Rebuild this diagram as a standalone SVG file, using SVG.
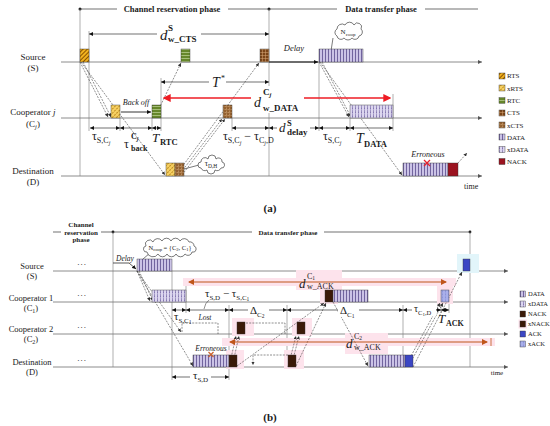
<svg xmlns="http://www.w3.org/2000/svg" width="550" height="426" viewBox="0 0 550 426">
<style>
.t{font-family:"Liberation Serif","Times New Roman",serif;fill:#1a1a1a}
.b{font-weight:bold}
.i{font-style:italic}
.m{text-anchor:middle}
.ln{stroke:#6e6e6e;stroke-width:0.8;fill:none;marker-end:url(#ax)}
.vl{stroke:#7a7a7a;stroke-width:0.6;fill:none}
.hd{stroke:#333;stroke-width:0.7;fill:none}
.dm{stroke:#111;stroke-width:0.6;fill:none;marker-start:url(#ah);marker-end:url(#ah)}
.ds{stroke:#333;stroke-width:0.55;stroke-dasharray:2 1.2;fill:none;marker-end:url(#dh)}
.dn{stroke:#333;stroke-width:0.55;stroke-dasharray:2 1.2;fill:none}
.bx{stroke:#333;stroke-width:0.4}
.pk{fill:#fde3ec}
</style>
<defs>
<marker id="ah" viewBox="0 0 6 6" refX="6" refY="3" markerWidth="4" markerHeight="4" markerUnits="userSpaceOnUse" orient="auto-start-reverse"><path d="M0,0 L6,3 L0,6 z" fill="#111"/></marker>
<marker id="ax" viewBox="0 0 6 6" refX="6" refY="3" markerWidth="4" markerHeight="4" markerUnits="userSpaceOnUse" orient="auto"><path d="M0,0 L6,3 L0,6 z" fill="#555"/></marker>
<marker id="dh" viewBox="0 0 6 6" refX="6" refY="3" markerWidth="3.5" markerHeight="3.5" markerUnits="userSpaceOnUse" orient="auto"><path d="M0,0 L6,3 L0,6 z" fill="#333"/></marker>
<marker id="rh" viewBox="0 0 6 6" refX="5" refY="3" markerWidth="8" markerHeight="8" markerUnits="userSpaceOnUse" orient="auto-start-reverse"><path d="M0,0 L6,3 L0,6 z" fill="#ee1c24"/></marker>
<marker id="oh" viewBox="0 0 6 6" refX="5" refY="3" markerWidth="6" markerHeight="6" markerUnits="userSpaceOnUse" orient="auto-start-reverse"><path d="M0,0 L6,3 L0,6 z" fill="#c0561a"/></marker>
<pattern id="pRTS" width="3" height="3" patternUnits="userSpaceOnUse" patternTransform="rotate(45)"><rect width="3" height="3" fill="#f2b21e"/><line x1="0.5" y1="0" x2="0.5" y2="3" stroke="#8a5300" stroke-width="1"/></pattern>
<pattern id="pxRTS" width="3" height="3" patternUnits="userSpaceOnUse" patternTransform="rotate(45)"><rect width="3" height="3" fill="#f6d062"/><line x1="0.5" y1="0" x2="0.5" y2="3" stroke="#b07a10" stroke-width="0.8" stroke-dasharray="1 1"/></pattern>
<pattern id="pRTC" width="4" height="3" patternUnits="userSpaceOnUse"><rect width="4" height="3" fill="#66872a"/><line x1="0" y1="1.5" x2="4" y2="1.5" stroke="#d2e2ad" stroke-width="0.6"/></pattern>
<pattern id="pCTS" width="3" height="3" patternUnits="userSpaceOnUse"><rect width="3" height="3" fill="#7a4418"/><path d="M0,1.5 H3 M1.5,0 V3" stroke="#d8a878" stroke-width="0.5"/></pattern>
<pattern id="pxCTS" width="3" height="3" patternUnits="userSpaceOnUse"><rect width="3" height="3" fill="#94612f"/><path d="M0,1.5 H3 M1.5,0 V3" stroke="#e0b78a" stroke-width="0.5" stroke-dasharray="1 0.5"/></pattern>
<pattern id="pDATA" width="3" height="4" patternUnits="userSpaceOnUse"><rect width="3" height="4" fill="#cbc3e6"/><line x1="1.5" y1="0" x2="1.5" y2="4" stroke="#5b4b8c" stroke-width="0.8"/></pattern>
<pattern id="pxDATA" width="3" height="4" patternUnits="userSpaceOnUse"><rect width="3" height="4" fill="#dcd6ef"/><line x1="1.5" y1="0" x2="1.5" y2="4" stroke="#6f60a0" stroke-width="0.8" stroke-dasharray="1.5 0.8"/></pattern>
<pattern id="pNACK" width="2" height="2" patternUnits="userSpaceOnUse"><rect width="2" height="2" fill="#a31522"/><circle cx="1" cy="1" r="0.4" fill="#5a0008"/></pattern>
<pattern id="pxACK" width="3" height="3" patternUnits="userSpaceOnUse"><rect width="3" height="3" fill="#a9afea"/><line x1="1.5" y1="0" x2="1.5" y2="3" stroke="#7078c8" stroke-width="0.5" stroke-dasharray="1 0.6"/></pattern>
</defs>
<rect width="550" height="426" fill="#fff"/>

<!-- ================= (a) ================= -->
<g id="a-header">
<line class="hd" x1="80" y1="9" x2="117" y2="9"/>
<line class="hd" x1="228" y1="9" x2="337" y2="9"/>
<line class="hd" x1="425" y1="9" x2="478" y2="9"/>
<circle cx="80" cy="9" r="1.5" fill="#222"/><circle cx="269" cy="9" r="1.5" fill="#222"/>
<text class="t b m" x="172" y="12" font-size="8.5">Channel reservation phase</text>
<text class="t b m" x="381" y="12" font-size="8.5">Data transfer phase</text>
</g>

<g id="a-rows">
<line class="ln" x1="61" y1="62" x2="482" y2="62"/>
<line class="ln" x1="61" y1="118" x2="482" y2="118"/>
<line class="ln" x1="61" y1="176" x2="482" y2="176"/>
<text class="t m" x="33" y="60" font-size="9">Source</text>
<text class="t m" x="33" y="71" font-size="9">(S)</text>
<text class="t m" x="33" y="115" font-size="9">Cooperator <tspan class="i">j</tspan></text>
<text class="t m" x="33" y="127" font-size="9">(C<tspan class="i" font-size="6.5" dy="1.5">j</tspan><tspan dy="-1.5">)</tspan></text>
<text class="t m" x="33" y="174" font-size="9">Destination</text>
<text class="t m" x="33" y="185" font-size="9">(D)</text>
<text class="t" x="464" y="189" font-size="8">time</text>
</g>

<g id="a-verticals">
<line class="vl" x1="80" y1="9" x2="80" y2="176"/>
<line class="vl" x1="269" y1="9" x2="269" y2="176"/>
<line class="vl" x1="89" y1="31" x2="89" y2="131"/>
<line class="vl" x1="161" y1="78" x2="161" y2="131"/>
<line class="vl" x1="120" y1="118" x2="120" y2="131"/>
<line class="vl" x1="152" y1="118" x2="152" y2="131"/>
<line class="vl" x1="232" y1="118" x2="232" y2="131"/>
<line class="vl" x1="319" y1="62" x2="319" y2="131"/>
<line class="vl" x1="350" y1="118" x2="350" y2="131"/>
<line class="vl" x1="393" y1="94" x2="393" y2="131"/>
</g>

<g id="a-connectors">
<path class="ds" d="M80 62 L108 117"/>
<path class="ds" d="M83 62 L111 117"/>
<path class="ds" d="M81 62 L165 175"/>
<path class="ds" d="M155 117 L181 63"/>
<path class="ds" d="M176 175 L259 63"/>
<path class="ds" d="M179 175 L222 119"/>
<path class="ds" d="M182 175 L225 119"/>
<path class="ds" d="M319 62 L349 117"/>
<path class="ds" d="M322 62 L351 117"/>
<path class="ds" d="M320 62 L402 175"/>
<path class="ds" d="M458 163 L467 153"/>
<line x1="269" y1="62" x2="318" y2="62" stroke="#000" stroke-width="0.9" marker-end="url(#ah)"/>
<line x1="121" y1="112" x2="151" y2="112" stroke="#000" stroke-width="0.8" marker-end="url(#ah)"/>
<line x1="333" y1="38" x2="331" y2="51" stroke="#222" stroke-width="0.6"/>
<line x1="184" y1="169" x2="199" y2="165" stroke="#222" stroke-width="0.6"/>
</g>

<g id="a-packets">
<rect class="bx" x="80" y="49" width="9" height="13" fill="url(#pRTS)"/>
<rect class="bx" x="181" y="49" width="9" height="13" fill="url(#pRTC)"/>
<rect class="bx" x="260" y="49" width="9" height="13" fill="url(#pCTS)"/>
<rect class="bx" x="319" y="49" width="44" height="13" fill="url(#pDATA)"/>
<rect class="bx" x="111" y="105" width="9" height="13" fill="url(#pxRTS)"/>
<rect class="bx" x="152" y="105" width="9" height="13" fill="url(#pRTC)"/>
<rect class="bx" x="223" y="105" width="9" height="13" fill="url(#pxCTS)"/>
<rect class="bx" x="350" y="105" width="43" height="13" fill="url(#pxDATA)"/>
<rect class="bx" x="166" y="163" width="9" height="13" fill="url(#pxRTS)"/>
<rect class="bx" x="175" y="163" width="9" height="13" fill="url(#pxCTS)"/>
<rect class="bx" x="403" y="163" width="45" height="13" fill="url(#pDATA)"/>
<rect class="bx" x="448" y="163" width="10" height="13" fill="url(#pNACK)"/>
<path d="M424 160 L430 166 M430 160 L424 166" stroke="#e8202a" stroke-width="1.3"/>
<text class="t i m" x="428" y="157" font-size="8" fill="#333">Erroneous</text>
<text class="t i m" x="294" y="51" font-size="8.5" fill="#444">Delay</text>
<text class="t i m" x="136" y="105" font-size="8" fill="#333">Back off</text>
</g>

<g id="a-clouds">
<path d="M337 36 a4 4 0 0 1 0 -7 a5 5 0 0 1 8 -4 a5 5 0 0 1 9 0 a4 4 0 0 1 7 4 a4 4 0 0 1 -2 7 a4 4 0 0 1 -7 2 a5 5 0 0 1 -8 0 a4 4 0 0 1 -7 -2 z" fill="#fff" stroke="#222" stroke-width="0.6"/>
<text class="t m" x="348" y="34" font-size="7">N<tspan font-size="5" dy="1.5">coop</tspan></text>
<path d="M201 168 a3 3 0 0 1 0 -6 a4 4 0 0 1 7 -3 a4 4 0 0 1 8 0 a3.5 3.5 0 0 1 6 3 a3 3 0 0 1 -1 6 a4 4 0 0 1 -6 2 a4 4 0 0 1 -8 0 a4 4 0 0 1 -6 -2 z" fill="#fff" stroke="#222" stroke-width="0.6"/>
<text class="t m" x="211" y="166" font-size="8">τ<tspan font-size="5.5" dy="1.5">D,H</tspan></text>
</g>

<g id="a-dims">
<line class="dm" x1="89" y1="34" x2="269" y2="34"/>
<rect x="157" y="23" width="44" height="21" fill="#fff"/>
<text class="t i" x="160" y="40" font-size="15">d</text>
<text class="t b" x="168" y="31" font-size="9">S</text>
<text class="t b" x="168" y="42" font-size="9">w_CTS</text>

<line class="dm" x1="161" y1="82" x2="269" y2="82"/>
<rect x="209" y="74" width="17" height="15" fill="#fff"/>
<text class="t i" x="212" y="87" font-size="14">T</text>
<text class="t" x="221" y="81" font-size="8">*</text>

<line x1="164" y1="98" x2="390" y2="98" stroke="#ee1c24" stroke-width="1.6" marker-start="url(#rh)" marker-end="url(#rh)"/>
<rect x="251" y="86" width="53" height="27" fill="#fff"/>
<text class="t i" x="254" y="107" font-size="14" fill="#ee1c24">d</text>
<text class="t b" x="263" y="95" font-size="9" fill="#ee1c24">C<tspan class="i" font-size="6.5" dy="1.5">j</tspan></text>
<text class="t b" x="263" y="111" font-size="9" fill="#ee1c24">w_DATA</text>

<line class="dm" x1="90" y1="128" x2="120" y2="128"/>
<line class="dm" x1="120" y1="128" x2="152" y2="128"/>
<line class="dm" x1="152" y1="128" x2="161" y2="128"/>
<line class="dm" x1="232" y1="128" x2="269" y2="128"/>
<line class="dm" x1="269" y1="128" x2="319" y2="128"/>
<line class="dm" x1="319" y1="128" x2="350" y2="128"/>
<line class="dm" x1="350" y1="128" x2="393" y2="128"/>
<rect x="277" y="119" width="33" height="17" fill="#fff"/>

<text class="t" x="92" y="140" font-size="12">τ<tspan font-size="8" dy="3">S,C</tspan><tspan class="i" font-size="6" dy="1.5">j</tspan></text>
<text class="t" x="124" y="148" font-size="12">τ</text>
<text class="t b" x="131" y="139" font-size="8">C<tspan class="i" font-size="6" dy="1.5">j</tspan></text>
<text class="t b" x="131" y="151" font-size="8">back</text>
<text class="t i" x="152" y="142" font-size="13">T</text>
<text class="t b" x="160" y="145" font-size="8.5">RTC</text>
<text class="t" x="223" y="140" font-size="12">τ<tspan font-size="8" dy="3">S,C</tspan><tspan class="i" font-size="6" dy="1.5">j</tspan><tspan dy="-4.5"> − τ</tspan><tspan font-size="8" dy="3">C</tspan><tspan class="i" font-size="6" dy="1.5">j</tspan><tspan font-size="8" dy="-1.5">,D</tspan></text>
<text class="t i" x="279" y="132" font-size="13">d</text>
<text class="t b" x="287" y="126" font-size="8.5">S</text>
<text class="t b" x="287" y="135" font-size="9">delay</text>
<text class="t" x="323" y="140" font-size="12">τ<tspan font-size="8" dy="3">S,C</tspan><tspan class="i" font-size="6" dy="1.5">j</tspan></text>
<text class="t i" x="356" y="143" font-size="14">T</text>
<text class="t b" x="364" y="147" font-size="8.5">DATA</text>
</g>

<g id="a-legend" font-size="7">
<rect class="bx" x="499" y="73" width="6" height="6" fill="url(#pRTS)"/><text class="t" x="507" y="78" font-size="7">RTS</text>
<rect class="bx" x="499" y="85" width="6" height="6" fill="url(#pxRTS)"/><text class="t" x="507" y="90.5" font-size="7">xRTS</text>
<rect class="bx" x="499" y="97.5" width="6" height="6" fill="url(#pRTC)"/><text class="t" x="507" y="103" font-size="7">RTC</text>
<rect class="bx" x="499" y="110" width="6" height="6" fill="url(#pCTS)"/><text class="t" x="507" y="115" font-size="7">CTS</text>
<rect class="bx" x="499" y="122" width="6" height="6" fill="url(#pxCTS)"/><text class="t" x="507" y="127.5" font-size="7">xCTS</text>
<rect class="bx" x="499" y="134" width="6" height="6" fill="url(#pDATA)"/><text class="t" x="507" y="139.5" font-size="7">DATA</text>
<rect class="bx" x="499" y="146.5" width="6" height="6" fill="url(#pxDATA)"/><text class="t" x="507" y="152" font-size="7">xDATA</text>
<rect class="bx" x="499" y="158.5" width="6" height="6" fill="url(#pNACK)"/><text class="t" x="507" y="164" font-size="7">NACK</text>
</g>
<text class="t b m" x="270" y="212" font-size="11">(a)</text>

<!-- ================= (b) ================= -->
<g id="b-header">
<line class="hd" x1="53" y1="232" x2="61" y2="232"/>
<line class="hd" x1="101" y1="232" x2="252" y2="232"/>
<line class="hd" x1="324" y1="232" x2="470" y2="232"/>
<circle cx="113" cy="232" r="1.4" fill="#222"/><circle cx="470" cy="232" r="1.4" fill="#222"/>
<text class="t b m" x="81" y="227" font-size="7">Channel</text>
<text class="t b m" x="81" y="234.5" font-size="7">reservation</text>
<text class="t b m" x="81" y="242" font-size="7">phase</text>
<text class="t b m" x="288" y="234.5" font-size="7">Data transfer phase</text>
</g>

<g id="b-rows">
<line class="ln" x1="53" y1="271" x2="508" y2="271"/>
<line class="ln" x1="53" y1="302" x2="508" y2="302"/>
<line class="ln" x1="53" y1="334" x2="508" y2="334"/>
<line class="ln" x1="53" y1="367" x2="508" y2="367"/>
<text class="t m" x="32" y="269" font-size="8.5">Source</text>
<text class="t m" x="32" y="279" font-size="8.5">(S)</text>
<text class="t m" x="31" y="301" font-size="8.5">Cooperator 1</text>
<text class="t m" x="31" y="311" font-size="8.5">(C<tspan font-size="6" dy="1.5">1</tspan><tspan dy="-1.5">)</tspan></text>
<text class="t m" x="31" y="332" font-size="8.5">Cooperator 2</text>
<text class="t m" x="31" y="342" font-size="8.5">(C<tspan font-size="6" dy="1.5">2</tspan><tspan dy="-1.5">)</tspan></text>
<text class="t m" x="32" y="365" font-size="8.5">Destination</text>
<text class="t m" x="32" y="375" font-size="8.5">(D)</text>
<text class="t m" x="82" y="265" font-size="9" letter-spacing="1">...</text>
<text class="t m" x="82" y="296" font-size="9" letter-spacing="1">...</text>
<text class="t m" x="82" y="328" font-size="9" letter-spacing="1">...</text>
<text class="t m" x="82" y="361" font-size="9" letter-spacing="1">...</text>
<text class="t m" x="497" y="375" font-size="7" fill="#444">time</text>
</g>

<g id="b-verticals">
<line class="vl" x1="113" y1="232" x2="113" y2="367"/>
<line class="vl" x1="470" y1="232" x2="470" y2="367"/>
<line class="vl" x1="172" y1="271" x2="172" y2="380"/>
<line class="vl" x1="186" y1="282" x2="186" y2="313"/>
<line class="vl" x1="229" y1="305" x2="229" y2="380"/>
<line class="vl" x1="287" y1="305" x2="287" y2="367"/>
<line class="vl" x1="403" y1="305" x2="403" y2="367"/>
<line class="vl" x1="441" y1="302" x2="441" y2="313"/>
<line class="vl" x1="449" y1="282" x2="449" y2="313"/>
</g>

<g id="b-highlights">
<rect class="pk" x="183" y="278" width="273" height="8"/>
<rect class="pk" x="222" y="338" width="273" height="8"/>
<rect class="pk" x="296" y="270" width="46" height="20"/>
<rect class="pk" x="345" y="333" width="43" height="21"/>
<rect class="pk" x="320" y="287" width="18" height="17"/>
<rect class="pk" x="437" y="286" width="16" height="18"/>
<rect class="pk" x="232" y="318" width="22" height="18"/>
<rect class="pk" x="292" y="318" width="20" height="18"/>
<rect class="pk" x="226" y="350" width="18" height="19"/>
<rect class="pk" x="284" y="350" width="20" height="19"/>
<rect x="457" y="254" width="22" height="19" fill="#e2f5fa"/>
</g>

<g id="b-connectors">
<path class="ds" d="M137 271 L150 301"/>
<path class="ds" d="M139 271 L153 301"/>
<path class="ds" d="M137 271 L181 332"/>
<path class="ds" d="M137 271 L193 366"/>
<path class="dn" d="M182 332 V323 H218 V334"/>
<path class="dn" d="M246 323 H285 V334"/>
<path class="ds" d="M288 355 H253 V365"/>
<path class="ds" d="M229 367 L236 336"/>
<path class="ds" d="M232 367 L239 336"/>
<path class="ds" d="M237 366 L324 303"/>
<path class="ds" d="M288 367 L296 336"/>
<path class="ds" d="M291 367 L299 336"/>
<path class="ds" d="M296 366 L326 303"/>
<path class="ds" d="M333 302 L368 366"/>
<path class="ds" d="M405 367 L440 303"/>
<path class="ds" d="M408 367 L443 303"/>
<path class="ds" d="M413 367 L462 272"/>
<path d="M113 263 H129 L136 269" stroke="#111" stroke-width="0.7" fill="none" marker-end="url(#ah)"/>
<line x1="150" y1="253" x2="143" y2="259" stroke="#222" stroke-width="0.6"/>
<line x1="189" y1="282" x2="446" y2="282" stroke="#c0561a" stroke-width="1.2" marker-start="url(#oh)" marker-end="url(#oh)"/>
<line x1="230" y1="342" x2="487" y2="342" stroke="#c0561a" stroke-width="1.2" marker-start="url(#oh)" marker-end="url(#oh)"/>
<line x1="491" y1="338" x2="491" y2="346" stroke="#c0561a" stroke-width="0.8"/>
</g>

<g id="b-packets">
<rect class="bx" x="137" y="259" width="35" height="12" fill="url(#pDATA)"/>
<rect class="bx" x="152" y="290" width="34" height="12" fill="url(#pxDATA)"/>
<rect class="bx" x="325" y="290" width="8" height="12" fill="#3b1a08"/>
<rect class="bx" x="333" y="290" width="35" height="12" fill="url(#pDATA)"/>
<rect class="bx" x="441" y="290" width="8" height="12" fill="url(#pxACK)"/>
<rect class="bx" x="463" y="259" width="7" height="12" fill="#3b46c4"/>
<rect class="bx" x="237" y="322" width="8" height="12" fill="#3b1a08"/>
<rect class="bx" x="297" y="322" width="8" height="12" fill="#3b1a08"/>
<rect class="bx" x="193" y="355" width="36" height="12" fill="url(#pDATA)"/>
<rect class="bx" x="229" y="355" width="8" height="12" fill="#3b1a08"/>
<rect class="bx" x="288" y="355" width="8" height="12" fill="#3b1a08"/>
<rect class="bx" x="369" y="355" width="36" height="12" fill="url(#pDATA)"/>
<rect class="bx" x="405" y="355" width="8" height="12" fill="#3b46c4"/>
<path d="M208.5 352 L213.5 357 M213.5 352 L208.5 357" stroke="#c8602a" stroke-width="1.2"/>
<text class="t i m" x="211" y="351" font-size="7.5" fill="#444">Erroneous</text>
<text class="t i m" x="205" y="320" font-size="7.5" fill="#444">Lost</text>
<text class="t i m" x="125" y="261" font-size="7.5" fill="#444">Delay</text>
</g>

<g id="b-cloud">
<path d="M147 252 a3 3 0 0 1 -1 -6 a4 4 0 0 1 7 -4 a5 5 0 0 1 9 -1 a5 5 0 0 1 9 0 a5 5 0 0 1 9 0 a5 5 0 0 1 9 1 a4 4 0 0 1 5 4 a3 3 0 0 1 -2 6 a4 4 0 0 1 -7 2 a5 5 0 0 1 -9 0 a5 5 0 0 1 -9 0 a5 5 0 0 1 -9 0 a6 6 0 0 1 -11 -2 z" fill="#fff" stroke="#222" stroke-width="0.6"/>
<text class="t m" x="170" y="250" font-size="6.5">N<tspan font-size="4.5" dy="1.2">coop</tspan><tspan dy="-1.2"> = {C</tspan><tspan font-size="4.5" dy="1.2">2</tspan><tspan dy="-1.2">, C</tspan><tspan font-size="4.5" dy="1.2">1</tspan><tspan dy="-1.2">}</tspan></text>
</g>

<g id="b-dims">
<line class="dm" x1="172" y1="310" x2="186" y2="310"/>
<line class="dm" x1="186" y1="310" x2="229" y2="310"/>
<line class="dm" x1="229" y1="310" x2="287" y2="310"/>
<line class="dm" x1="287" y1="310" x2="403" y2="310"/>
<line class="dm" x1="403" y1="310" x2="441" y2="310"/>
<line class="dm" x1="441" y1="310" x2="449" y2="310"/>
<line class="dm" x1="172" y1="377" x2="229" y2="377"/>
<rect x="248" y="304" width="21" height="13" fill="#fff"/>
<rect x="338" y="304" width="21" height="13" fill="#fff"/>
<rect x="412" y="304" width="24" height="12" fill="#fff"/>
<rect x="190" y="370" width="21" height="13" fill="#fff"/>
<path d="M204 309 Q205 303 209 300" stroke="#222" stroke-width="0.5" fill="none"/>
<text class="t" x="174" y="320" font-size="11">τ<tspan font-size="7" dy="2.5">S,C</tspan><tspan font-size="5.5" dy="1.2">1</tspan></text>
<text class="t" x="205" y="297" font-size="11">τ<tspan font-size="7" dy="2.5">S,D</tspan><tspan dy="-2.5"> − τ</tspan><tspan font-size="7" dy="2.5">S,C</tspan><tspan font-size="5.5" dy="1.2">1</tspan></text>
<text class="t" x="250" y="314" font-size="11">Δ<tspan font-size="7" dy="2.5">C</tspan><tspan font-size="5.5" dy="1.2">2</tspan></text>
<text class="t" x="340" y="314" font-size="11">Δ<tspan font-size="7" dy="2.5">C</tspan><tspan font-size="5.5" dy="1.2">1</tspan></text>
<text class="t" x="414" y="312" font-size="10">τ<tspan font-size="6.5" dy="2.5">C</tspan><tspan font-size="5" dy="1.2">1</tspan><tspan font-size="6.5" dy="-1.2">,D</tspan></text>
<text class="t i" x="438" y="323" font-size="13">T</text>
<text class="t b" x="446" y="326" font-size="8">ACK</text>
<text class="t" x="193" y="379" font-size="11">τ<tspan font-size="7" dy="2.5">S,D</tspan></text>
<text class="t i" x="299" y="288" font-size="13" fill="#c0561a">d</text>
<text class="t" x="307" y="279" font-size="8" fill="#c0561a">C<tspan font-size="5.5" dy="1.2">1</tspan></text>
<text class="t" x="307" y="289" font-size="8" fill="#c0561a">w_ACK</text>
<text class="t i" x="346" y="348" font-size="13" fill="#c0561a">d</text>
<text class="t" x="354" y="339" font-size="8" fill="#c0561a">C<tspan font-size="5.5" dy="1.2">2</tspan></text>
<text class="t" x="354" y="350" font-size="8" fill="#c0561a">w_ACK</text>
</g>

<g id="b-legend">
<rect class="bx" x="520" y="291" width="5.5" height="6" fill="url(#pDATA)"/><text class="t" x="528" y="296" font-size="6.5">DATA</text>
<rect class="bx" x="520" y="301" width="5.5" height="6" fill="url(#pxDATA)"/><text class="t" x="528" y="306" font-size="6.5">xDATA</text>
<rect class="bx" x="520" y="311" width="5.5" height="6" fill="#3b1a08"/><text class="t" x="528" y="316" font-size="6.5">NACK</text>
<rect class="pk" x="518.5" y="319.5" width="8.5" height="9"/>
<rect class="bx" x="520" y="321" width="5.5" height="6" fill="#3b1a08"/><text class="t" x="528" y="326" font-size="6.5">xNACK</text>
<rect class="bx" x="520" y="331" width="5.5" height="6" fill="#3b46c4"/><text class="t" x="528" y="336" font-size="6.5">ACK</text>
<rect class="bx" x="520" y="341" width="5.5" height="6" fill="url(#pxACK)"/><text class="t" x="528" y="346" font-size="6.5">xACK</text>
</g>
<text class="t b m" x="270" y="421" font-size="11">(b)</text>
</svg>
